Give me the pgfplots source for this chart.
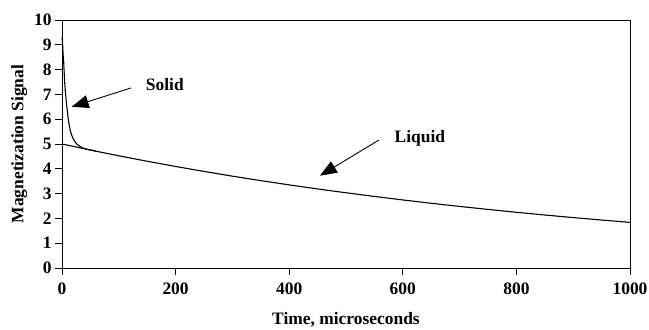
\documentclass[border=0pt]{standalone}
\usepackage{pgfplots}
\pgfplotsset{compat=1.18}
\usetikzlibrary{arrows.meta}
\usepackage{fontspec}
\setmainfont{Liberation Serif}
\begin{document}
\begin{tikzpicture}
\begin{axis}[
  scale only axis, width=568bp, height=248bp,
  xmin=0, xmax=1000, ymin=0, ymax=10,
  xtick={0,200,...,1000}, ytick={0,1,...,10},
  tick align=outside, tick pos=left, major tick length=7bp,
  axis line style={line width=0.8pt}, tick style={black, line width=0.7pt},
  /pgf/number format/assume math mode=true,
  /pgf/number format/1000 sep={},
  ticklabel style={font=\fontsize{17.5}{19}\selectfont\bfseries},
  xticklabel style={yshift=-4bp},
  label style={font=\fontsize{17.5}{19}\selectfont\bfseries},
  xlabel={Time, microseconds}, ylabel={Magnetization Signal},
  xlabel style={yshift=-11bp},
  ylabel style={yshift=0bp},
  clip=false,
]
\addplot[black, line width=1.1pt] coordinates {
(0,5.00) (50,4.756) (100,4.524) (150,4.304) (200,4.094) (250,3.894) (300,3.704)
(350,3.523) (400,3.352) (450,3.188) (500,3.033) (550,2.885) (600,2.744) (650,2.610)
(700,2.483) (750,2.362) (800,2.247) (850,2.137) (900,2.033) (950,1.934) (1000,1.839)};
\addplot[black, line width=1.1pt] coordinates {
(0,9.3) (1,9.1) (2,8.6) (3,8.3) (4,7.8) (5,7.4) (6,7.1) (8,6.6) (10,6.2) (12,5.85)
(15,5.5) (18,5.3) (22,5.12) (26,5.0) (30,4.93) (35,4.86) (40,4.81) (50,4.76) (60,4.71)};
\draw[line width=0.9pt, -{Triangle[length=17bp,width=13bp]}] (axis cs:121.5,7.26) -- (axis cs:17,6.5);
\draw[line width=0.9pt, -{Triangle[length=17bp,width=13bp]}] (axis cs:558,5.16) -- (axis cs:454,3.72);
\node[font=\fontsize{17.5}{19}\selectfont\bfseries] at (axis cs:181,7.38) {Solid};
\node[font=\fontsize{17.5}{19}\selectfont\bfseries] at (axis cs:630,5.24) {Liquid};
\end{axis}
\pgfresetboundingbox
\path (current axis.south west) ++(-62bp,-62bp) rectangle (current axis.north east) ++(19bp,20bp);
\end{tikzpicture}
\end{document}
